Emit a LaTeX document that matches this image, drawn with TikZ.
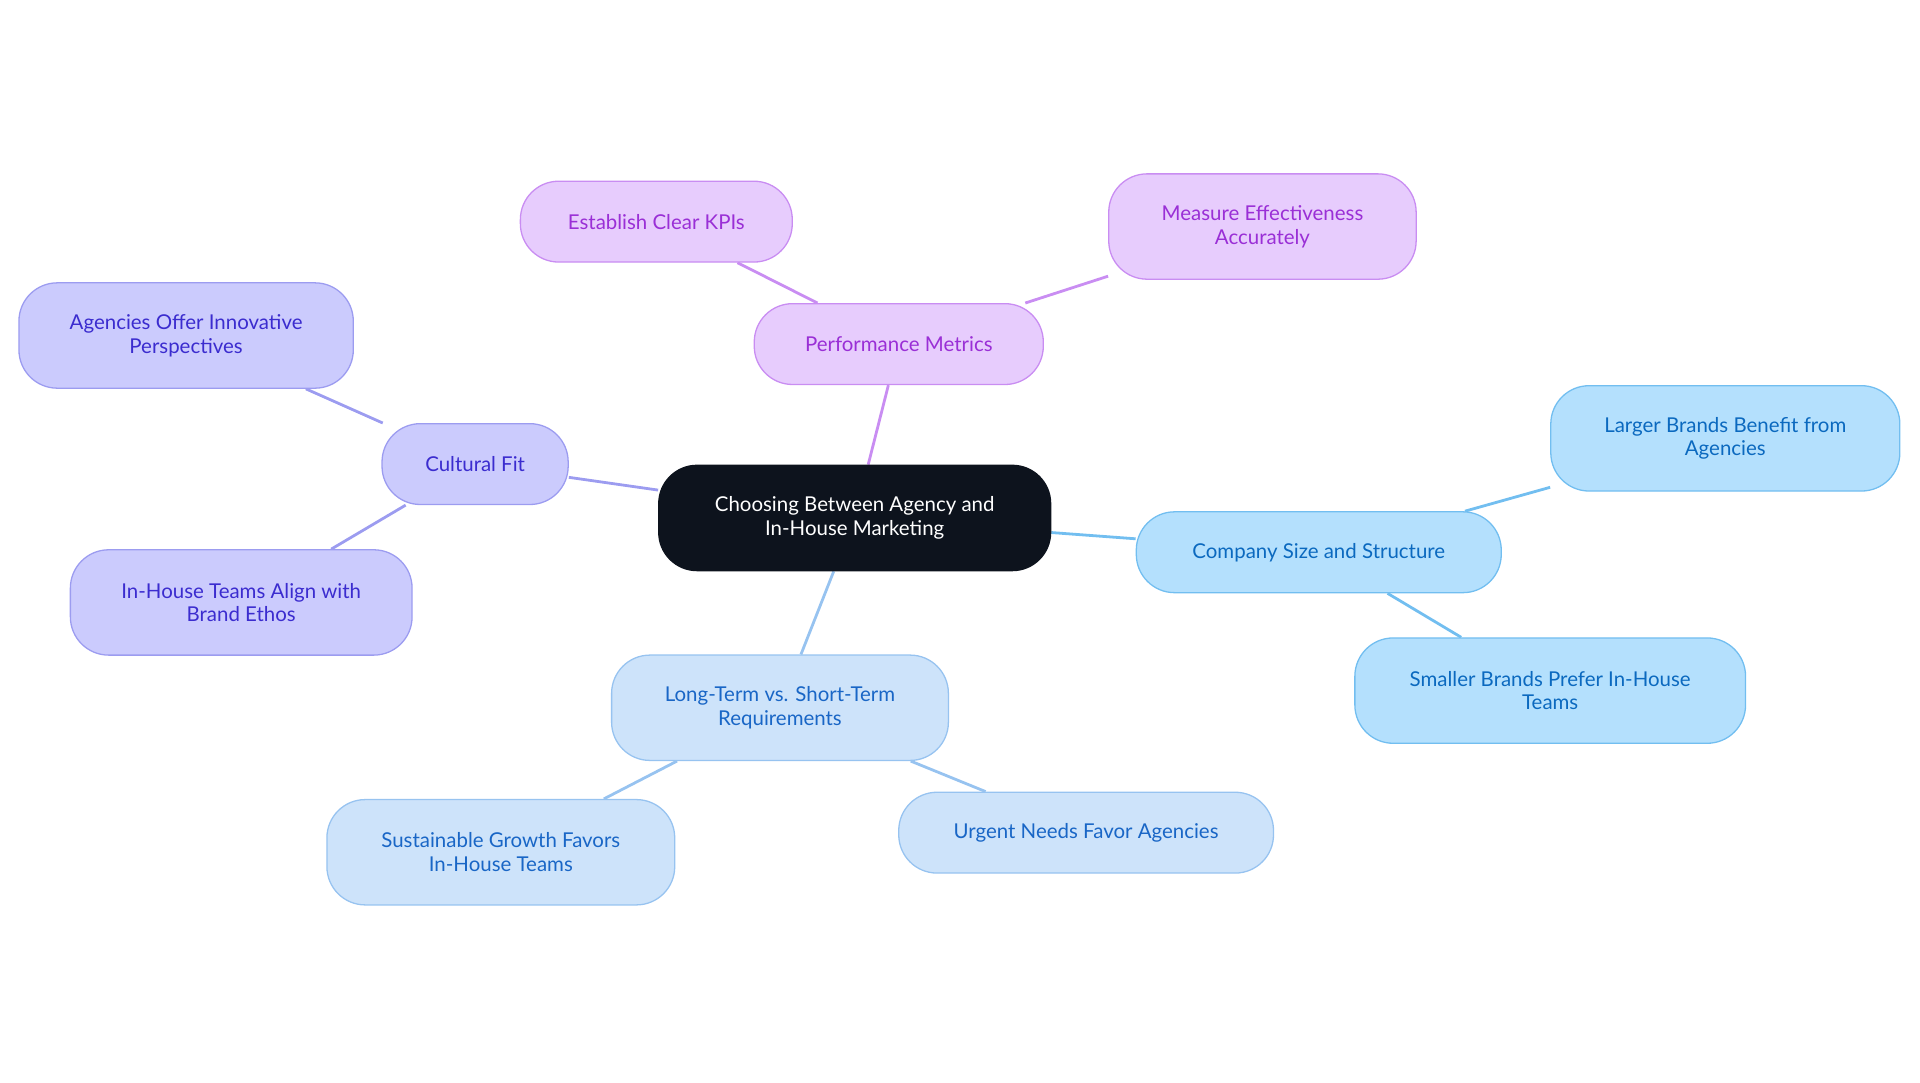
\documentclass[tikz,border=0pt]{standalone}
\usepackage{fontspec}
\setmainfont{Lato}
\definecolor{mmDark}{HTML}{0D131D}
\definecolor{mmPurpleFill}{HTML}{E7CCFD}
\definecolor{mmPurpleLine}{HTML}{C98DF2}
\definecolor{mmPurpleText}{HTML}{9A2FD6}
\definecolor{mmVioletFill}{HTML}{CBCBFD}
\definecolor{mmVioletLine}{HTML}{9C9CF0}
\definecolor{mmVioletText}{HTML}{3B2CCF}
\definecolor{mmSkyFill}{HTML}{B4E0FD}
\definecolor{mmSkyLine}{HTML}{72BEF0}
\definecolor{mmSkyText}{HTML}{0B69BF}
\definecolor{mmBlueFill}{HTML}{CDE3FA}
\definecolor{mmBlueLine}{HTML}{97C3F0}
\definecolor{mmBlueText}{HTML}{1966C6}
\usetikzlibrary{positioning,backgrounds}

\tikzset{
  bubble/.style={draw, line width=1.2pt, rounded corners=1.25cm, align=center,
    font=\fontsize{19}{22}\selectfont, minimum height=2.64cm, inner sep=0pt},
  pm/.style={bubble, fill=mmPurpleFill, draw=mmPurpleLine, text=mmPurpleText},
  cf/.style={bubble, fill=mmVioletFill, draw=mmVioletLine, text=mmVioletText},
  cs/.style={bubble, fill=mmSkyFill, draw=mmSkyLine, text=mmSkyText},
  lt/.style={bubble, fill=mmBlueFill, draw=mmBlueLine, text=mmBlueText},
  link/.style={line width=2.6pt}
}

\begin{document}
\begin{tikzpicture}[x=0.04cm, y=-0.04cm]
  \useasboundingbox (0,0) rectangle (1568,884);

  % Root
  \node[bubble, fill=mmDark, draw=mmDark, text=white, minimum width=12.8cm, minimum height=3.44cm] (root) at (698,423) {Choosing Between Agency and\\In-House Marketing};

  % Performance Metrics
  \node[pm, minimum width=9.44cm] (perf) at (734,281) {Performance Metrics};
  \node[pm, minimum width=8.88cm] (kpi) at (536,181) {Establish Clear KPIs};
  \node[pm, minimum width=10.04cm, minimum height=3.44cm] (measure) at (1031,185) {Measure Effectiveness\\Accurately};

  % Cultural Fit
  \node[cf, minimum width=6.08cm] (culture) at (388,379) {Cultural Fit};
  \node[cf, minimum width=10.92cm, minimum height=3.44cm] (innov) at (152,274) {Agencies Offer Innovative\\Perspectives};
  \node[cf, minimum width=11.16cm, minimum height=3.44cm] (ethos) at (197,492) {In-House Teams Align with\\Brand Ethos};

  % Company Size and Structure
  \node[cs, minimum width=11.92cm] (size) at (1077,451) {Company Size and Structure};
  \node[cs, minimum width=11.4cm, minimum height=3.44cm] (larger) at (1409,358) {Larger Brands Benefit from\\Agencies};
  \node[cs, minimum width=12.76cm, minimum height=3.44cm] (smaller) at (1266,564) {Smaller Brands Prefer In-House\\Teams};

  % Long-Term vs. Short-Term
  \node[lt, minimum width=11cm, minimum height=3.44cm] (term) at (637,578) {Long-Term vs. Short-Term\\Requirements};
  \node[lt, minimum width=11.36cm, minimum height=3.44cm] (growth) at (409,696) {Sustainable Growth Favors\\In-House Teams};
  \node[lt, minimum width=12.24cm] (urgent) at (887,680) {Urgent Needs Favor Agencies};

  % Links
  \begin{scope}[on background layer]
    \draw[link, mmPurpleLine] (root) -- (perf);
    \draw[link, mmPurpleLine] (perf) -- (kpi);
    \draw[link, mmPurpleLine] (perf) -- (measure);
    \draw[link, mmVioletLine] (root) -- (culture);
    \draw[link, mmVioletLine] (culture) -- (innov);
    \draw[link, mmVioletLine] (culture) -- (ethos);
    \draw[link, mmSkyLine] (root) -- (size);
    \draw[link, mmSkyLine] (size) -- (larger);
    \draw[link, mmSkyLine] (size) -- (smaller);
    \draw[link, mmBlueLine] (root) -- (term);
    \draw[link, mmBlueLine] (term) -- (growth);
    \draw[link, mmBlueLine] (term) -- (urgent);
  \end{scope}
\end{tikzpicture}
\end{document}
